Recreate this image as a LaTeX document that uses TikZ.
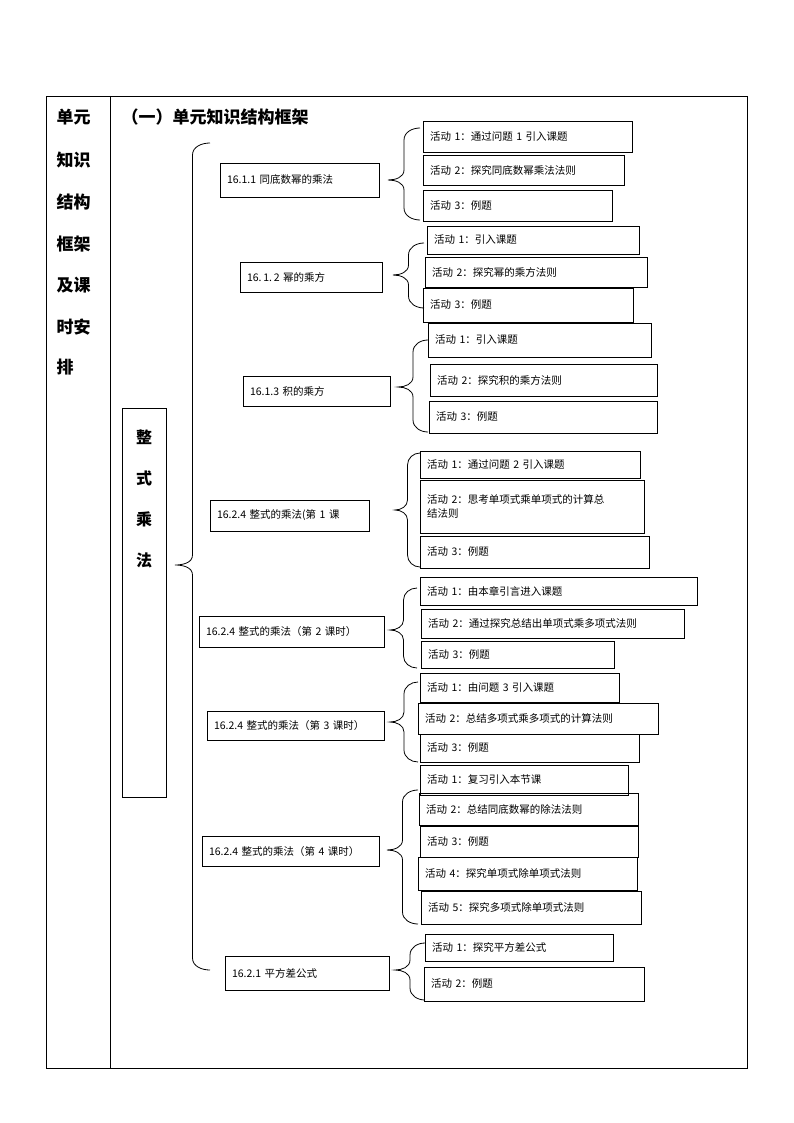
\documentclass[tikz,border=0pt]{standalone}
\usepackage{fontspec}
\setmainfont{Noto Sans CJK SC}
\begin{document}
\newcommand\bx[6]{%
\pgfmathsetmacro\tw{#4-#2-14}\pgfmathsetmacro\th{#5-#3}%
\node[box,text width=\tw pt,minimum height=\th pt] (#1) at ({(#2+#4)/2},{(#3+#5)/2}) {#6};}
\newcommand\mybrace[5]{% x1 tip, x2 arms, top, tip y, bottom
\pgfmathsetmacro\xm{(#1+#2)/2}%
\draw (#2,#3) to[out=180,in=90] (\xm,#3+12) -- (\xm,#4-10) to[out=-90,in=0] (#1,#4)
 to[out=0,in=90] (\xm,#4+10) -- (\xm,#5-12) to[out=-90,in=180] (#2,#5);}
\begin{tikzpicture}[x=1pt,y=-1pt,line width=0.8pt,
 box/.style={draw,inner xsep=7pt,inner ysep=1pt,align=left,font=\fontsize{10.5}{14}\selectfont},
 lc/.style={font=\fontsize{17}{17}\selectfont\bfseries}]
\useasboundingbox (0,0) rectangle (794,1123);
\draw (46,96) rectangle (747,1068);
\draw (110,96) -- (110,1068);
\foreach \t/\y in {单元/117,知识/160,结构/202,框架/244,及课/285,时安/327,排/367}
 \node[lc,anchor=west] at (53,\y) {\t};
\node[lc,anchor=west] (title) at (118,117) {（一）单元知识结构框架};
\draw (122,408) rectangle (166,797);
\foreach \t/\y in {整/437,式/478,乘/519,法/560}
 \node[lc,font=\fontsize{16}{16}\selectfont\bfseries] at (144,\y) {\t};
\node[coordinate] (root) at (175,565) {};
\mybrace{175}{210}{143}{565}{970}
% level 2
\bx{a}{220}{163}{379}{197}{16.1.1 同底数幂的乘法}
\bx{b}{240}{262}{382}{292}{16.\,1.\,2 幂的乘方}
\bx{c}{243}{376}{390}{406}{16.1.3 积的乘方}
\bx{d}{210}{500}{369}{531}{16.2.4 整式的乘法(第 1 课}
\bx{e}{199}{616}{384}{647}{16.2.4 整式的乘法（第 2 课时）}
\bx{f}{207}{711}{384}{740}{16.2.4 整式的乘法（第 3 课时）}
\bx{g}{202}{836}{379}{866}{16.2.4 整式的乘法（第 4 课时）}
\bx{h}{225}{956}{389}{990}{16.2.1 平方差公式}
% braces
\mybrace{388}{420}{128}{180}{220}
\mybrace{393}{424}{243}{275}{308}
\mybrace{398}{428}{340}{387}{432}
\mybrace{395}{420}{453}{510}{567}
\mybrace{390}{417}{588}{630}{668}
\mybrace{390}{418}{682}{722}{762}
\mybrace{387}{418}{790}{850}{924}
\mybrace{395}{425}{943}{970}{1000}
% activities
\bx{a1}{423}{121}{632}{152}{活动 1：通过问题 1 引入课题}
\bx{a2}{423}{155}{624}{185}{活动 2：探究同底数幂乘法法则}
\bx{a3}{423}{190}{612}{221}{活动 3：例题}
\bx{b1}{427}{226}{639}{254}{活动 1：引入课题}
\bx{b2}{425}{257}{647}{287}{活动 2：探究幂的乘方法则}
\bx{b3}{423}{288}{633}{322}{活动 3：例题}
\bx{c1}{428}{323}{651}{357}{活动 1：引入课题}
\bx{c2}{430}{364}{657}{396}{活动 2：探究积的乘方法则}
\bx{c3}{429}{401}{657}{433}{活动 3：例题}
\bx{d1}{420}{451}{640}{478}{活动 1：通过问题 2 引入课题}
\bx{d2}{420}{480}{644}{533}{活动 2：思考单项式乘单项式的计算总\\结法则}
\bx{d3}{420}{536}{649}{568}{活动 3：例题}
\bx{e1}{420}{577}{697}{605}{活动 1：由本章引言进入课题}
\bx{e2}{421}{609}{684}{638}{活动 2：通过探究总结出单项式乘多项式法则}
\bx{e3}{421}{641}{614}{668}{活动 3：例题}
\bx{f1}{420}{673}{619}{702}{活动 1：由问题 3 引入课题}
\bx{f2}{418}{703}{658}{734}{活动 2：总结多项式乘多项式的计算法则}
\bx{f3}{420}{734}{639}{762}{活动 3：例题}
\bx{g1}{420}{765}{628}{795}{活动 1：复习引入本节课}
\bx{g2}{419}{793}{638}{825}{活动 2：总结同底数幂的除法法则}
\bx{g3}{420}{826}{638}{857}{活动 3：例题}
\bx{g4}{418}{857}{637}{890}{活动 4：探究单项式除单项式法则}
\bx{g5}{421}{891}{641}{924}{活动 5：探究多项式除单项式法则}
\bx{h1}{425}{934}{613}{961}{活动 1：探究平方差公式}
\bx{h2}{424}{967}{644}{1001}{活动 2：例题}
\end{tikzpicture}
\end{document}
